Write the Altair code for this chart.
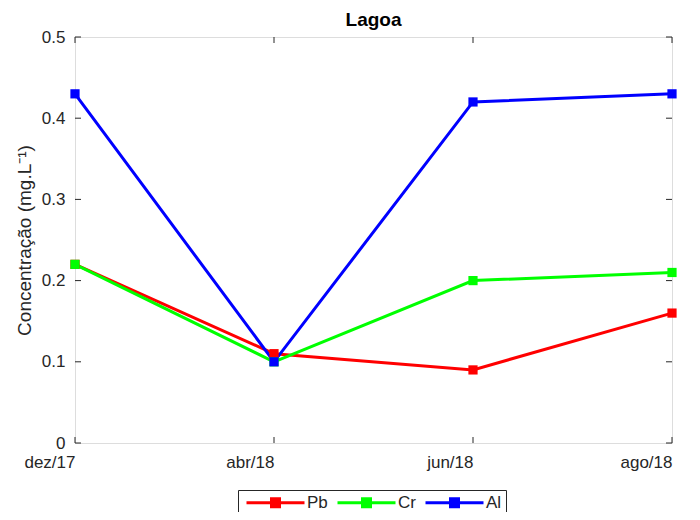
import altair as alt
import pandas as pd

months = ["dez/17", "abr/18", "jun/18", "ago/18"]
pb = [0.22, 0.11, 0.09, 0.16]
cr = [0.22, 0.10, 0.20, 0.21]
al = [0.43, 0.10, 0.42, 0.43]
series = ["Pb", "Cr", "Al"]
colors = ["#ff0000", "#00ff00", "#0000ff"]
yticks = [0, 0.1, 0.2, 0.3, 0.4, 0.5]

W, H = 597, 406
FONT = "Liberation Sans"
AX = "#262626"

rows = []
for name, vals in zip(series, [pb, cr, al]):
    for i, (m, v) in enumerate(zip(months, vals)):
        rows.append({"month": m, "value": v, "series": name, "idx": i})
df = pd.DataFrame(rows)

xenc = alt.X("month:N", sort=months,
             scale=alt.Scale(type="point", padding=0),
             axis=alt.Axis(title=None, ticks=False, domain=False, grid=False,
                           labelFontSize=17, labelColor=AX, labelPadding=19,
                           labelFont=FONT, labelAngle=0))
yenc = alt.Y("value:Q", scale=alt.Scale(domain=[0, 0.5], nice=False, zero=True),
             axis=alt.Axis(title="Concentração (mg.L⁻¹)", values=yticks, format=".1~f",
                           ticks=False, domain=False, grid=False,
                           labelFontSize=17, labelColor=AX, labelPadding=10,
                           labelFont=FONT, titleFont=FONT, titleFontSize=19,
                           titleFontWeight="normal", titleColor=AX, titlePadding=7))
cenc = alt.Color("series:N", sort=series,
                 scale=alt.Scale(domain=series, range=colors),
                 legend=alt.Legend(title=None, orient="none", direction="horizontal",
                                   legendX=163, legendY=453,
                                   symbolType="M-5.8,0H5.8M-0.8,-0.8H0.8V0.8H-0.8Z",
                                   symbolSize=100, symbolStrokeWidth=3,
                                   symbolOffset=25, labelOffset=23,
                                   labelFontSize=17, labelFont=FONT, labelColor=AX,
                                   strokeColor=AX, fillColor="white", padding=4,
                                   columnPadding=3))

base = alt.Chart(df)
lines = base.mark_line(strokeWidth=3).encode(x=xenc, y=yenc, color=cenc,
                                              order="idx:O")
points = base.mark_point(shape="square", filled=True, size=85, opacity=1).encode(
    x=alt.X("month:N", sort=months), y="value:Q", color=cenc)

ytdf = pd.DataFrame({"v": yticks})
xtdf = pd.DataFrame({"month": months})
ytl = alt.Chart(ytdf).mark_rule(color=AX, strokeWidth=1).encode(
    y="v:Q", x=alt.value(0), x2=alt.value(6))
ytr = alt.Chart(ytdf).mark_rule(color=AX, strokeWidth=1).encode(
    y="v:Q", x=alt.value(W - 6), x2=alt.value(W))
xtb = alt.Chart(xtdf).mark_rule(color=AX, strokeWidth=1).encode(
    x=alt.X("month:N", sort=months), y=alt.value(H - 6), y2=alt.value(H))
xtt = alt.Chart(xtdf).mark_rule(color=AX, strokeWidth=1).encode(
    x=alt.X("month:N", sort=months), y=alt.value(0), y2=alt.value(6))

chart = alt.layer(ytl, ytr, xtb, xtt, lines, points).properties(
    width=W, height=H,
    title=alt.TitleParams("Lagoa", font=FONT, fontSize=19, fontWeight="bold",
                          color="black", anchor="middle", offset=9, dy=11),
    autosize=alt.AutoSizeParams(type="none"),
    padding={"left": 67, "top": 29, "right": 20, "bottom": 69},
).configure_view(stroke=AX, strokeWidth=1.2).configure(background="white")

chart.save("out.html", embed_options={"renderer": "svg", "actions": False})
